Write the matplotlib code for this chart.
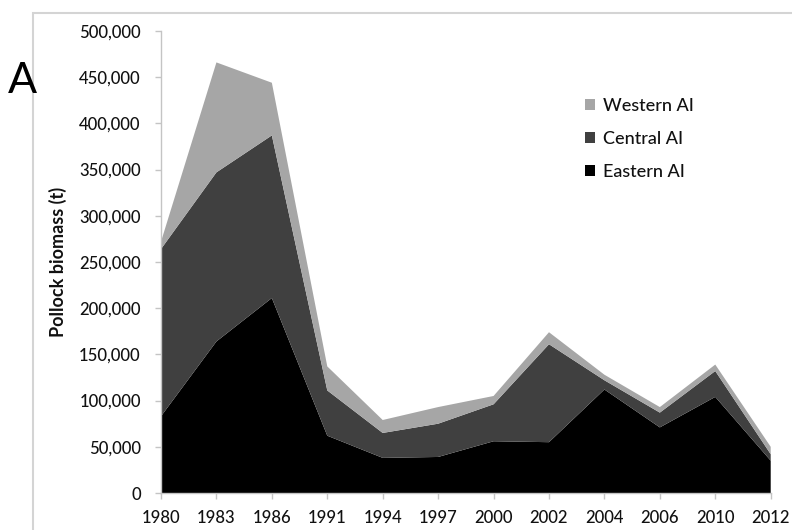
import matplotlib
matplotlib.use("Agg")
import matplotlib.pyplot as plt
from matplotlib.patches import Rectangle
from matplotlib.ticker import FuncFormatter
import numpy as np

# Survey years (equally spaced categories)
years = ["1980", "1983", "1986", "1991", "1994", "1997", "2000",
         "2002", "2004", "2006", "2010", "2012"]

# Pollock biomass by area (t)
eastern = [83000, 164000, 211000, 62000, 38000, 39000, 56000,
           55000, 112000, 71000, 104000, 35000]
central = [181000, 183000, 176000, 49000, 27000, 36000, 40000,
           106000, 10000, 16000, 28000, 7000]
western = [8000, 119000, 57000, 26000, 14000, 18000, 9000,
           13000, 6000, 6000, 7000, 8000]

series_labels = ["Eastern AI", "Central AI", "Western AI"]
series_colors = ["#000000", "#404040", "#a6a6a6"]

plt.rcParams["font.family"] = ["Lato", "DejaVu Sans"]

fig = plt.figure(figsize=(7.92, 5.30), dpi=100)
fig.patch.set_facecolor("white")

# Chart-area border
fig.patches.append(Rectangle((33 / 792, -0.05), 1.2, 1 - 13 / 530 + 0.05,
                             transform=fig.transFigure, fill=False,
                             edgecolor="#d4d4d4", linewidth=1.5, zorder=0))

ax = fig.add_axes([161 / 792, 1 - 493 / 530, (770.7 - 161) / 792, (493 - 31) / 530])

x = np.arange(len(years))
polys = ax.stackplot(x, eastern, central, western,
                     colors=series_colors, labels=series_labels,
                     linewidth=0)

ax.set_xlim(0, len(years) - 1)
ax.set_ylim(0, 500000)
ax.set_xticks(x)
ax.set_xticklabels(years)
ax.set_yticks(np.arange(0, 500001, 50000))
ax.yaxis.set_major_formatter(FuncFormatter(lambda v, p: f"{int(v):,}"))

for side in ("top", "right"):
    ax.spines[side].set_visible(False)
for side in ("left", "bottom"):
    ax.spines[side].set_color("#c4c4c4")
    ax.spines[side].set_linewidth(1.0)

ax.tick_params(axis="both", colors="#c4c4c4", labelcolor="#111111",
               labelsize=12, length=4.5, width=1.0)
ax.tick_params(axis="y", pad=10)
ax.tick_params(axis="x", pad=8)
for lab in ax.get_xticklabels() + ax.get_yticklabels():
    lab.set_fontweight(500)

fig.text(58 / 792, 1 - 262 / 530, "Pollock biomass (t)", rotation=90,
         ha="center", va="center", fontsize=13, fontweight="bold",
         color="#111111")

fig.text(22 / 792, 1 - 81 / 530, "A", ha="center", va="center",
         fontsize=31, color="#000000")

handles, labels = ax.get_legend_handles_labels()
leg = ax.legend(handles[::-1], labels[::-1], loc="upper left",
                bbox_to_anchor=((585 - 161) / 609.7, (493 - 98) / 462),
                frameon=False, fontsize=13, handlelength=0.55,
                handleheight=0.55, handletextpad=0.45, labelspacing=0.93,
                borderpad=0, borderaxespad=0)
for t in leg.get_texts():
    t.set_color("#111111")
    t.set_fontweight(500)

fig.savefig("out.png", dpi=100, facecolor="white")
